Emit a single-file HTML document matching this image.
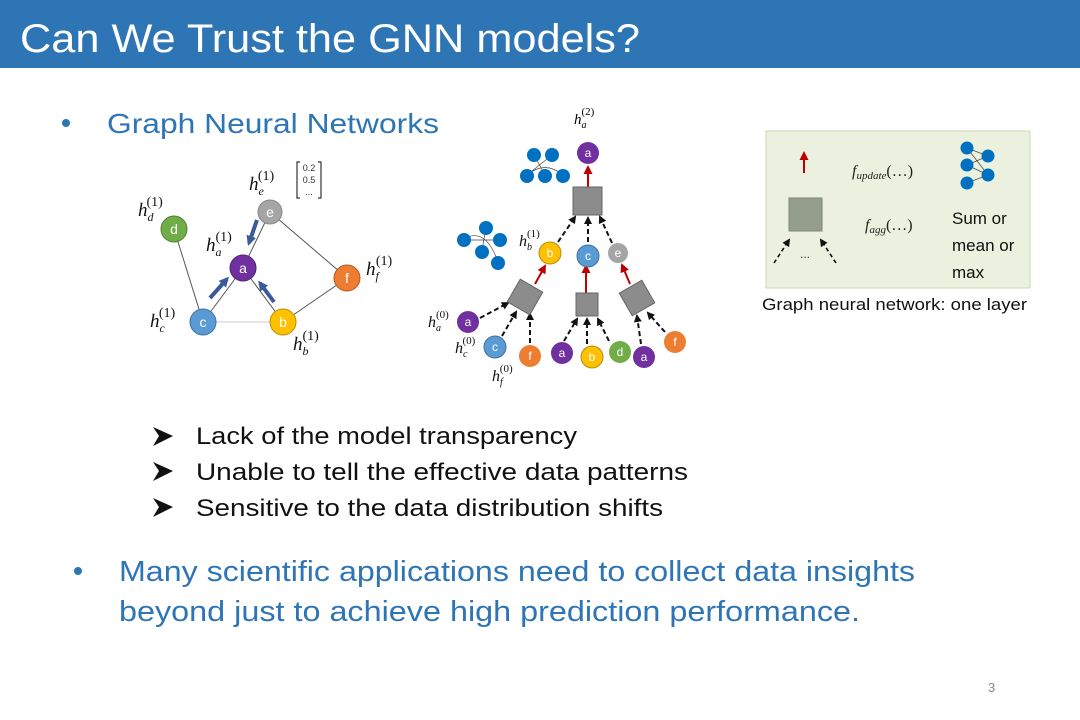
<!DOCTYPE html>
<html><head><meta charset="utf-8"><style>
html,body{margin:0;padding:0;background:#fff}
svg{display:block}
text{font-family:"Liberation Sans",sans-serif}
.m{font-family:"Liberation Serif",serif;font-style:italic}
.n{fill:#fff;font-size:14px;text-anchor:middle}
</style></head><body>
<svg width="1080" height="720" viewBox="0 0 1080 720" xmlns="http://www.w3.org/2000/svg">
<defs>
<marker id="ak" markerWidth="8" markerHeight="8" refX="6" refY="4" orient="auto" markerUnits="userSpaceOnUse"><path d="M0,0 L8,4 L0,8 z" fill="#111"/></marker>
<marker id="ar" markerWidth="9" markerHeight="9" refX="7" refY="4.5" orient="auto" markerUnits="userSpaceOnUse"><path d="M0,0 L9,4.5 L0,9 z" fill="#c00000"/></marker>
<marker id="ab" markerWidth="10" markerHeight="10" refX="7" refY="5" orient="auto" markerUnits="userSpaceOnUse"><path d="M0,0 L10,5 L0,10 z" fill="#3a5a9a"/></marker>
</defs>
<rect x="0" y="0" width="1080" height="68" fill="#2e75b6"/>
<text x="20" y="52" font-size="40" fill="#fff" textLength="620" lengthAdjust="spacingAndGlyphs">Can We Trust the GNN models?</text>

<circle cx="66" cy="123" r="4" fill="#2e75b6"/>
<text x="107" y="133" font-size="28" fill="#2e75b6" textLength="332" lengthAdjust="spacingAndGlyphs">Graph Neural Networks</text>

<!-- left graph -->
<g stroke="#555" stroke-width="1">
<line x1="174" y1="229" x2="203" y2="322"/>
<line x1="203" y1="322" x2="243" y2="268"/>
<line x1="243" y1="268" x2="283" y2="322"/>
<line x1="243" y1="268" x2="270" y2="212"/>
<line x1="270" y1="212" x2="347" y2="278"/>
<line x1="283" y1="322" x2="347" y2="278"/>
<line x1="203" y1="322" x2="283" y2="322" stroke="#ccc"/>
</g>
<g stroke="#3a5a9a" stroke-width="4">
<line x1="210" y1="298" x2="227" y2="279" marker-end="url(#ab)"/>
<line x1="274" y1="302" x2="260" y2="283" marker-end="url(#ab)"/>
<line x1="257" y1="220" x2="249" y2="243" marker-end="url(#ab)"/>
</g>
<g stroke-width="1">
<circle cx="270" cy="212" r="12" fill="#a5a5a5" stroke="#888"/>
<circle cx="174" cy="229" r="13" fill="#70ad47" stroke="#507e32"/>
<circle cx="243" cy="268" r="13" fill="#7030a0" stroke="#52207a"/>
<circle cx="347" cy="278" r="13" fill="#ed7d31" stroke="#ae5a21"/>
<circle cx="203" cy="322" r="13" fill="#5b9bd5" stroke="#41719c"/>
<circle cx="283" cy="322" r="13" fill="#ffc000" stroke="#bc8c00"/>
</g>
<text class="n" x="270" y="217">e</text><text class="n" x="174" y="234">d</text><text class="n" x="243" y="273">a</text>
<text class="n" x="347" y="283">f</text><text class="n" x="203" y="327">c</text><text class="n" x="283" y="327">b</text>
<g font-size="19" fill="#111">
<text x="249" y="190" class="m">h<tspan font-size="12" dy="5">e</tspan><tspan font-size="14" dy="-15" dx="-6" font-style="normal">(1)</tspan></text>
<text x="138" y="216" class="m">h<tspan font-size="12" dy="5">d</tspan><tspan font-size="14" dy="-15" dx="-7" font-style="normal">(1)</tspan></text>
<text x="206" y="251" class="m">h<tspan font-size="12" dy="5">a</tspan><tspan font-size="14" dy="-15" dx="-6" font-style="normal">(1)</tspan></text>
<text x="366" y="275" class="m">h<tspan font-size="12" dy="5">f</tspan><tspan font-size="14" dy="-15" dx="-3" font-style="normal">(1)</tspan></text>
<text x="150" y="327" class="m">h<tspan font-size="12" dy="5">c</tspan><tspan font-size="14" dy="-15" dx="-6" font-style="normal">(1)</tspan></text>
<text x="293" y="350" class="m">h<tspan font-size="12" dy="5">b</tspan><tspan font-size="14" dy="-15" dx="-6" font-style="normal">(1)</tspan></text>
</g>
<path d="M300,162 h-3 v36 h3 M318,162 h3 v36 h-3" fill="none" stroke="#333" stroke-width="1.2"/>
<g font-size="9" fill="#333" text-anchor="middle"><text x="309" y="171">0.2</text><text x="309" y="183">0.5</text><text x="309" y="195">...</text></g>

<!-- tree -->
<text x="574" y="124" class="m" font-size="15">h<tspan font-size="10" dy="4">a</tspan><tspan font-size="11" dy="-13" dx="-5" font-style="normal">(2)</tspan></text>
<g stroke="#c00000" stroke-width="2">
<line x1="588" y1="187" x2="588" y2="167" marker-end="url(#ar)"/>
<line x1="535" y1="284" x2="545" y2="266" marker-end="url(#ar)"/>
<line x1="586" y1="293" x2="586" y2="266" marker-end="url(#ar)"/>
<line x1="630" y1="284" x2="622" y2="265" marker-end="url(#ar)"/>
</g>
<g stroke="#111" stroke-width="2" stroke-dasharray="5,3">
<line x1="558" y1="242" x2="575" y2="217" marker-end="url(#ak)"/>
<line x1="588" y1="242" x2="588" y2="218" marker-end="url(#ak)"/>
<line x1="612" y1="243" x2="600" y2="217" marker-end="url(#ak)"/>
<line x1="480" y1="318" x2="508" y2="303" marker-end="url(#ak)"/>
<line x1="502" y1="336" x2="516" y2="312" marker-end="url(#ak)"/>
<line x1="530" y1="343" x2="530" y2="314" marker-end="url(#ak)"/>
<line x1="564" y1="341" x2="577" y2="319" marker-end="url(#ak)"/>
<line x1="587" y1="344" x2="587" y2="319" marker-end="url(#ak)"/>
<line x1="609" y1="341" x2="598" y2="319" marker-end="url(#ak)"/>
<line x1="641" y1="344" x2="637" y2="316" marker-end="url(#ak)"/>
<line x1="665" y1="332" x2="648" y2="313" marker-end="url(#ak)"/>
</g>
<g fill="#8c8c8c" stroke="#666" stroke-width="1">
<rect x="573" y="187" width="29" height="28"/>
<rect x="512" y="284" width="26" height="26" transform="rotate(30 525 297)"/>
<rect x="576" y="293" width="22" height="23"/>
<rect x="624" y="285" width="26" height="26" transform="rotate(-30 637 298)"/>
</g>
<g stroke-width="1">
<circle cx="588" cy="153" r="11" fill="#7030a0"/>
<circle cx="550" cy="253" r="11" fill="#ffc000" stroke="#bc8c00"/>
<circle cx="588" cy="256" r="11" fill="#5b9bd5" stroke="#41719c"/>
<circle cx="618" cy="253" r="10" fill="#a5a5a5"/>
<circle cx="468" cy="322" r="11" fill="#7030a0"/>
<circle cx="495" cy="347" r="11" fill="#5b9bd5" stroke="#41719c"/>
<circle cx="530" cy="356" r="11" fill="#ed7d31"/>
<circle cx="562" cy="353" r="11" fill="#7030a0"/>
<circle cx="592" cy="357" r="11" fill="#ffc000" stroke="#bc8c00"/>
<circle cx="620" cy="352" r="11" fill="#70ad47"/>
<circle cx="644" cy="357" r="11" fill="#7030a0"/>
<circle cx="675" cy="342" r="11" fill="#ed7d31"/>
</g>
<g font-size="12" fill="#fff" text-anchor="middle">
<text x="588" y="157">a</text><text x="550" y="257">b</text><text x="588" y="260">c</text><text x="618" y="257">e</text>
<text x="468" y="326">a</text><text x="495" y="351">c</text><text x="530" y="360">f</text><text x="562" y="357">a</text>
<text x="592" y="361">b</text><text x="620" y="356">d</text><text x="644" y="361">a</text><text x="675" y="346">f</text>
</g>
<g font-size="16" fill="#111">
<text x="519" y="246" class="m">h<tspan font-size="10" dy="4">b</tspan><tspan font-size="11" dy="-13" dx="-5" font-style="normal">(1)</tspan></text>
<text x="428" y="327" class="m">h<tspan font-size="10" dy="4">a</tspan><tspan font-size="11" dy="-13" dx="-5" font-style="normal">(0)</tspan></text>
<text x="455" y="353" class="m">h<tspan font-size="10" dy="4">c</tspan><tspan font-size="11" dy="-13" dx="-5" font-style="normal">(0)</tspan></text>
<text x="492" y="381" class="m">h<tspan font-size="10" dy="4">f</tspan><tspan font-size="11" dy="-13" dx="-3" font-style="normal">(0)</tspan></text>
</g>

<!-- right box -->
<rect x="766" y="131" width="264" height="157" fill="#ebf1de" stroke="#c9d7b3" stroke-width="1"/>
<line x1="804" y1="173" x2="804" y2="153" stroke="#c00000" stroke-width="2" marker-end="url(#ar)"/>
<rect x="789" y="198" width="33" height="33" fill="#959e8a" stroke="#7d8573"/>
<g stroke="#111" stroke-width="1.6" stroke-dasharray="4,3">
<line x1="774" y1="263" x2="789" y2="240" marker-end="url(#ak)"/>
<line x1="836" y1="263" x2="821" y2="240" marker-end="url(#ak)"/>
</g>
<text x="800" y="258" font-size="12" fill="#333">...</text>
<text x="852" y="176" class="m" font-size="16" fill="#222">f<tspan font-size="11" dy="3">update</tspan><tspan dy="-3" font-style="normal">(…)</tspan></text>
<text x="865" y="230" class="m" font-size="16" fill="#222">f<tspan font-size="11" dy="3">agg</tspan><tspan dy="-3" font-style="normal">(…)</tspan></text>
<g font-size="17" fill="#111"><text x="952" y="224">Sum or</text><text x="952" y="251">mean or</text><text x="952" y="278">max</text></g>
<text x="762" y="310" font-size="16.5" fill="#111" textLength="265" lengthAdjust="spacingAndGlyphs">Graph neural network: one layer</text>

<!-- network icons (drawn on top) -->
<g stroke="#444" stroke-width="0.7" fill="none">
<path d="M527,175 Q545,160 563,175 M534,155 L545,175 M552,155 L527,175"/>
<path d="M462,240 Q485,225 498,262 M486,228 L482,250 M500,240 L462,240"/>
<path d="M967,148 L988,156 L967,165 L988,175 L967,183 M967,148 L988,175 M967,165 L988,156"/>
</g>
<g fill="#0070c0">
<circle cx="534" cy="155" r="7"/><circle cx="552" cy="155" r="7"/>
<circle cx="527" cy="176" r="7"/><circle cx="545" cy="176" r="7"/><circle cx="563" cy="176" r="7"/>
<circle cx="486" cy="228" r="7"/><circle cx="464" cy="240" r="7"/><circle cx="500" cy="240" r="7"/>
<circle cx="482" cy="252" r="7"/><circle cx="498" cy="263" r="7"/>
<circle cx="967" cy="148" r="6.5"/><circle cx="967" cy="165" r="6.5"/><circle cx="967" cy="183" r="6.5"/>
<circle cx="988" cy="156" r="6.5"/><circle cx="988" cy="175" r="6.5"/>
</g>

<!-- bullets -->
<g fill="#111">
<path d="M153,427 L173,436 L153,446 L159,436 z"/>
<path d="M153,462 L173,471 L153,481 L159,471 z"/>
<path d="M153,498 L173,507 L153,517 L159,507 z"/>
</g>
<g font-size="24" fill="#111">
<text x="196" y="444" textLength="381" lengthAdjust="spacingAndGlyphs">Lack of the model transparency</text>
<text x="196" y="480" textLength="492" lengthAdjust="spacingAndGlyphs">Unable to tell the effective data patterns</text>
<text x="196" y="516" textLength="467" lengthAdjust="spacingAndGlyphs">Sensitive to the data distribution shifts</text>
</g>
<circle cx="78" cy="571" r="4" fill="#2e75b6"/>
<g font-size="29" fill="#2e75b6">
<text x="119" y="581" textLength="796" lengthAdjust="spacingAndGlyphs">Many scientific applications need to collect data insights</text>
<text x="119" y="621" textLength="741" lengthAdjust="spacingAndGlyphs">beyond just to achieve high prediction performance.</text>
</g>
<text x="988" y="692" font-size="13" fill="#888">3</text>
</svg>
</body></html>
